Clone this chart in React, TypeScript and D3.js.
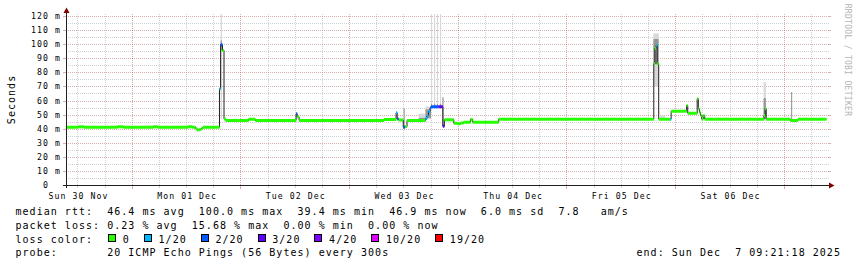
import React from "react";
import * as d3 from "d3";

// ---------- data ----------
const START = "2025-11-30 09:21:18";
const END = "2025-12-07 09:21:18";

const dayLabels = ["Sun 30 Nov", "Mon 01 Dec", "Tue 02 Dec", "Wed 03 Dec", "Thu 04 Dec", "Fri 05 Dec", "Sat 06 Dec"];
const yTickValues = [0, 10, 20, 30, 40, 50, 60, 70, 80, 90, 100, 110, 120];
const yTickLabels = ["  0", " 10 m", " 20 m", " 30 m", " 40 m", " 50 m", " 60 m", " 70 m", " 80 m", " 90 m", "100 m", "110 m", "120 m"];

const lossLabels = ["0", "1/20", "2/20", "3/20", "4/20", "10/20", "19/20"];
const lossColors = ["#26ff00", "#00b8ff", "#0059ff", "#5e00ff", "#7e00ff", "#dd00ff", "#ff0000"];

// median rtt (ms), step changes
const stepTimes = [
  "2025-11-30 09:00", "2025-11-30 12:05", "2025-11-30 13:15", "2025-11-30 20:45", "2025-11-30 22:00",
  "2025-12-01 04:40", "2025-12-01 05:35", "2025-12-01 12:20", "2025-12-01 13:15", "2025-12-01 14:00",
  "2025-12-01 14:20", "2025-12-01 14:50", "2025-12-01 15:15", "2025-12-01 15:35", "2025-12-01 19:15",
  "2025-12-01 19:30", "2025-12-01 19:55", "2025-12-01 20:15", "2025-12-01 20:40", "2025-12-02 01:40",
  "2025-12-02 03:10", "2025-12-02 12:10", "2025-12-02 12:25", "2025-12-02 12:50", "2025-12-03 07:35",
  "2025-12-03 10:15", "2025-12-03 10:30", "2025-12-03 10:50", "2025-12-03 11:50", "2025-12-03 12:15",
  "2025-12-03 12:40", "2025-12-03 16:45", "2025-12-03 17:05", "2025-12-03 17:25", "2025-12-03 17:45",
  "2025-12-03 18:00", "2025-12-03 19:40", "2025-12-03 20:35", "2025-12-03 20:55", "2025-12-03 23:00",
  "2025-12-03 23:50", "2025-12-04 00:30", "2025-12-04 01:10", "2025-12-04 02:40", "2025-12-04 03:10",
  "2025-12-04 08:55", "2025-12-05 19:10", "2025-12-05 19:25", "2025-12-05 19:40", "2025-12-05 19:55",
  "2025-12-05 20:15", "2025-12-05 22:45", "2025-12-05 23:00", "2025-12-06 02:25", "2025-12-06 02:40",
  "2025-12-06 04:45", "2025-12-06 05:00", "2025-12-06 05:15", "2025-12-06 05:30", "2025-12-06 05:45",
  "2025-12-06 06:05", "2025-12-06 06:25", "2025-12-06 19:30", "2025-12-06 19:45", "2025-12-06 20:00",
  "2025-12-07 01:20", "2025-12-07 03:00",
];
const medianMs = [
  41.4, 41.8, 41.4, 41.8, 41.4,
  41.8, 41.4, 41.8, 41.4, 40.3,
  39.4, 39.8, 40.6, 41.4, 68.7,
  100.0, 95.9, 47.3, 46.2, 47.0,
  46.2, 50.9, 48.6, 46.2, 46.9,
  51.6, 47.3, 46.5, 41.4, 41.9,
  46.2, 47.5, 49.5, 52.5, 55.0,
  56.0, 56.0, 42.0, 46.7, 44.2,
  43.8, 44.4, 45.0, 46.9, 45.0,
  47.1, 86.4, 97.5, 99.5, 86.4,
  47.1, 47.1, 52.8, 56.8, 51.3,
  61.6, 54.5, 52.0, 49.7, 47.1,
  49.7, 47.1, 49.7, 54.5, 47.1,
  46.2, 47.1,
];
const lossIdx = [
  0, 0, 0, 0, 0,
  0, 0, 0, 0, 0,
  0, 0, 0, 0, 1,
  2, 0, 0, 0, 0,
  0, 2, 0, 0, 0,
  1, 2, 0, 2, 0,
  0, 1, 1, 1, 2,
  2, 3, 3, 0, 0,
  0, 0, 0, 0, 0,
  0, 0, 0, 1, 0,
  0, 1, 0, 0, 0,
  0, 0, 0, 0, 0,
  0, 0, 0, 0, 0,
  0, 0,
];

// smoke: ping spread (ms)
const smokeFrom = [
  "2025-12-01 19:30", "2025-12-03 11:55", "2025-12-03 15:15", "2025-12-03 16:45", "2025-12-03 17:58",
  "2025-12-03 18:38", "2025-12-03 19:17", "2025-12-03 19:57", "2025-12-03 20:30", "2025-12-05 19:05",
  "2025-12-05 20:35", "2025-12-06 19:25", "2025-12-07 01:30",
];
const smokeTo = [
  "2025-12-01 19:48", "2025-12-03 12:08", "2025-12-03 16:45", "2025-12-03 17:58", "2025-12-03 18:13",
  "2025-12-03 18:53", "2025-12-03 19:32", "2025-12-03 20:12", "2025-12-03 20:43", "2025-12-05 20:15",
  "2025-12-05 21:40", "2025-12-06 19:55", "2025-12-07 01:43",
];
const smokeMin = [47, 41, 46, 47, 56, 56, 56, 56, 42, 70, 47, 47, 47];
const smokeMax = [125, 55, 51, 56, 125, 125, 125, 125, 62.7, 108, 49.7, 73.4, 66.3];
const smokeQ1 = [96, 41, 46, 48, 56, 56, 56, 56, 42, 86, 47, 47, 47];
const smokeQ3 = [103, 55, 48, 54, 58, 58, 58, 58, 62.7, 104, 47, 62, 66.3];

const medianStats = [46.4, 100.0, 39.4, 46.9, 6.0];
const amPerSec = 7.8;
const lossStats = [0.23, 15.68, 0.0, 0.0];
const probeText = "20 ICMP Echo Pings (56 Bytes) every 300s";
const endText = "Sun Dec  7 09:21:18 2025";

// ---------- chart ----------
const W = 857;
const H = 267;
const MONO = "'DejaVu Sans Mono', monospace";
const GRID = "rgba(140,140,140,0.4)";
const MGRID = "rgba(150,30,30,0.36)";

export default function App() {
  const parseS = d3.timeParse("%Y-%m-%d %H:%M:%S");
  const parseM = d3.timeParse("%Y-%m-%d %H:%M");
  const t0 = parseS(START)!;
  const t1 = parseS(END)!;

  const x = d3.scaleTime().domain([t0, t1]).range([66, 826.7]);
  const y = d3.scaleLinear().domain([0, 120]).range([185.5, 16.5]);
  const px = (v: number) => Math.floor(v) + 0.5;
  const py = (v: number) => Math.round(v - 0.5) + 0.5;

  const plotLeft = 66;
  const plotRight = 829;
  const plotTop = 14;
  const plotBottom = 185.5;

  const sixHours = d3.timeHour.every(6)!.range(t0, t1);
  const dayStart = d3.timeDay.floor(t0);
  const labelTimes = dayLabels.map((_, i) => d3.timeHour.offset(d3.timeDay.offset(dayStart, i), 12));

  const steps = stepTimes.map((s, i) => ({ t: parseM(s)!, v: medianMs[i], l: lossIdx[i] }));
  const linePts: [number, number][] = steps.map((d) => [x(d.t), y(d.v)]);
  linePts.push([x(t1), y(steps[steps.length - 1].v)]);
  const stepLine = d3.line().curve(d3.curveStepAfter)(linePts) || "";

  const minorY = d3.range(5, 120, 10);

  const adv = 7.05;
  const legendFont = 10;
  const legendLS = adv - 0.602 * legendFont;
  const axisFont = 8.2;
  const axisAdv = 6;
  const axisLS = axisAdv - 0.602 * axisFont;

  const row1 =
    `median rtt:  ${medianStats[0].toFixed(1)} ms avg  ${medianStats[1].toFixed(1)} ms max  ` +
    `${medianStats[2].toFixed(1)} ms min  ${medianStats[3].toFixed(1)} ms now  ${medianStats[4].toFixed(1)} ms sd  ` +
    `${amPerSec.toFixed(1)}   am/s`;
  const row2 =
    `packet loss: ${lossStats[0].toFixed(2)} % avg  ${lossStats[1].toFixed(2)} % max  ` +
    `${lossStats[2].toFixed(2)} % min  ${lossStats[3].toFixed(2)} % now`;
  const row4 = `probe:       ${probeText}`;

  // loss colour legend layout
  const legendItems: { bx: number; tx: number; label: string; color: string }[] = [];
  let bx = 16 + 13 * adv + 1;
  lossLabels.forEach((lab, i) => {
    const tx = bx + 14.2;
    legendItems.push({ bx, tx, label: lab, color: lossColors[i] });
    bx = tx + (lab.length + 2.05) * adv;
  });

  const rowY = [215.3, 229, 242.7, 256.4];
  const textStyle: React.CSSProperties = { whiteSpace: "pre" };

  return (
    <svg width={W} height={H} style={{ position: "absolute", left: 0, top: 0 }} xmlns="http://www.w3.org/2000/svg">
      <defs>
        <clipPath id="plot">
          <rect x={plotLeft} y={plotTop} width={826.7 - plotLeft} height={plotBottom - plotTop} />
        </clipPath>
      </defs>
      <rect x={0} y={0} width={W} height={H} fill="#ffffff" />

      {/* horizontal grid */}
      {minorY.map((v) => (
        <line key={"hm" + v} x1={plotLeft} x2={plotRight} y1={py(y(v))} y2={py(y(v))} stroke={GRID} strokeDasharray="1,1" />
      ))}
      {yTickValues.filter((v) => v > 0).map((v) => (
        <line key={"hM" + v} x1={plotLeft} x2={plotRight} y1={py(y(v))} y2={py(y(v))} stroke={MGRID} strokeDasharray="1,1" />
      ))}
      {/* vertical grid */}
      {sixHours.map((d, i) => {
        const major = d.getHours() === 0;
        const xx = px(x(d));
        return (
          <g key={"v" + i}>
            <line x1={xx} x2={xx} y1={plotTop} y2={plotBottom} stroke={major ? MGRID : GRID} strokeDasharray="1,1" />
            <line x1={xx} x2={xx} y1={plotBottom} y2={major ? 189 : 188} stroke={major ? MGRID : GRID} />
          </g>
        );
      })}
      {/* y ticks */}
      {yTickValues.map((v) => (
        <g key={"yt" + v}>
          <line x1={63} x2={66} y1={py(y(v))} y2={py(y(v))} stroke={MGRID} />
          <line x1={plotRight} x2={plotRight + 2} y1={py(y(v))} y2={py(y(v))} stroke={MGRID} />
        </g>
      ))}

      {/* smoke */}
      <g clipPath="url(#plot)">
        {smokeFrom.map((s, i) => {
          const xa = x(parseM(s)!);
          const xb = Math.max(x(parseM(smokeTo[i])!), xa + 1);
          return (
            <g key={"s" + i}>
              <rect x={xa} y={y(smokeMax[i])} width={xb - xa} height={y(smokeMin[i]) - y(smokeMax[i])} fill="#d8d8d8" />
              {smokeQ3[i] > smokeQ1[i] && (
                <rect x={xa} y={y(smokeQ3[i])} width={xb - xa} height={y(smokeQ1[i]) - y(smokeQ3[i])} fill="#969696" />
              )}
            </g>
          );
        })}
      </g>

      {/* median */}
      <g clipPath="url(#plot)">
        <path d={stepLine} fill="none" stroke="#202020" strokeWidth={1} />
        {steps.map((d, i) => {
          const xa = x(d.t);
          const xb = i + 1 < steps.length ? x(steps[i + 1].t) : x(t1);
          return (
            <line key={"m" + i} x1={xa} x2={xb} y1={y(d.v)} y2={y(d.v)} stroke={lossColors[d.l]} strokeWidth={3} />
          );
        })}
      </g>

      {/* axes */}
      <line x1={63} x2={plotRight + 1} y1={185.5} y2={185.5} stroke="#202020" />
      <line x1={66.5} x2={66.5} y1={188} y2={12} stroke="#202020" />
      <path d="M66.5,7.5 L63.5,13 L69.5,13 Z" fill="#7f0000" />
      <path d="M834.5,185.5 L829,182.5 L829,188.5 Z" fill="#7f0000" />

      {/* y labels */}
      {yTickValues.map((v, i) => (
        <text key={"yl" + v} x={31} y={py(y(v)) + 2.8} fontFamily={MONO} fontSize={axisFont} letterSpacing={axisLS} fill="#000" style={textStyle}>
          {yTickLabels[i]}
        </text>
      ))}
      {/* x labels */}
      {labelTimes.map((d, i) => (
        <text key={"xl" + i} x={x(d) - (dayLabels[i].length * axisAdv - axisLS) / 2} y={198.5} fontFamily={MONO} fontSize={axisFont} letterSpacing={axisLS} fill="#000" style={textStyle}>
          {dayLabels[i]}
        </text>
      ))}

      {/* unit label */}
      <text transform="translate(14.5,99.5) rotate(-90)" textAnchor="middle" fontFamily={MONO} fontSize={legendFont} letterSpacing={legendLS} fill="#000">
        Seconds
      </text>

      {/* watermark */}
      <text transform="translate(845,60) rotate(90)" textAnchor="middle" fontFamily={MONO} fontSize={8} letterSpacing={0.3} fill="#b4b4b4">
        RRDTOOL / TOBI OETIKER
      </text>

      {/* legend */}
      <text x={15.5} y={rowY[0]} fontFamily={MONO} fontSize={legendFont} letterSpacing={legendLS} fill="#000" style={textStyle}>{row1}</text>
      <text x={15.5} y={rowY[1]} fontFamily={MONO} fontSize={legendFont} letterSpacing={legendLS} fill="#000" style={textStyle}>{row2}</text>
      <text x={15.5} y={rowY[2]} fontFamily={MONO} fontSize={legendFont} letterSpacing={legendLS} fill="#000" style={textStyle}>loss color:</text>
      {legendItems.map((it, i) => (
        <g key={"lg" + i}>
          <rect x={Math.floor(it.bx) + 0.5} y={234.5} width={7} height={7} fill={it.color} stroke="#000" />
          <text x={it.tx} y={rowY[2]} fontFamily={MONO} fontSize={legendFont} letterSpacing={legendLS} fill="#000" style={textStyle}>{it.label}</text>
        </g>
      ))}
      <text x={15.5} y={rowY[3]} fontFamily={MONO} fontSize={legendFont} letterSpacing={legendLS} fill="#000" style={textStyle}>{row4}</text>
      <text x={636.5} y={rowY[3]} fontFamily={MONO} fontSize={legendFont} letterSpacing={legendLS} fill="#000" style={textStyle}>{`end: ${endText}`}</text>
    </svg>
  );
}
